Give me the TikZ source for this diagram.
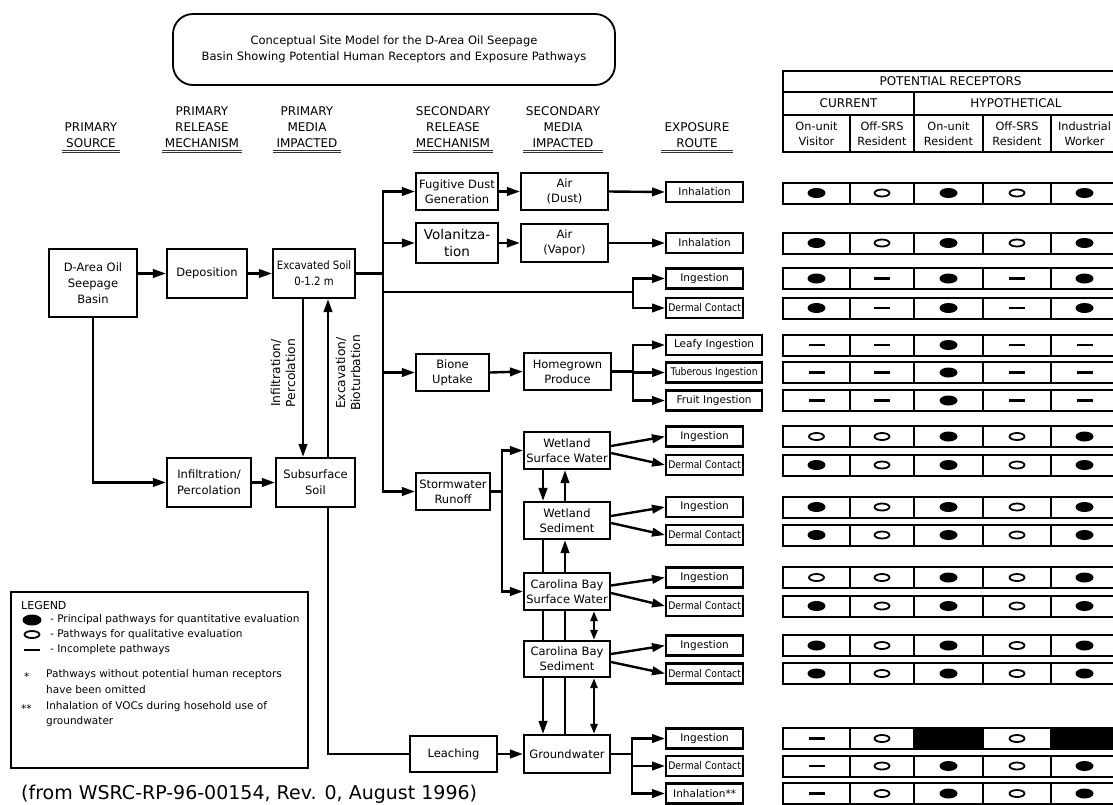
\documentclass[tikz,border=0pt]{standalone}
\usepackage{fontspec}
\setmainfont{DejaVu Sans}
\newfontfamily\cnd[FakeStretch=0.88]{DejaVu Sans}
\usetikzlibrary{arrows.meta,shapes.geometric}
\begin{document}
\begin{tikzpicture}[x=1pt,y=-1pt,
  bx/.style={draw,line width=2.2pt,inner sep=0pt,align=center,font=\fontsize{11.5}{15}\selectfont},
  sz/.style 2 args={minimum width=#1pt,minimum height=#2pt},
  ex/.style={draw,line width=2.2pt,inner sep=0pt,align=center,anchor=west,minimum width=77pt,minimum height=20pt,font=\fontsize{10.5}{12}\selectfont},
  exw/.style={ex,minimum width=96pt},
  ln/.style={line width=2.4pt,line cap=rect},
  arr/.style={line width=2.4pt,-{Triangle[length=13pt,width=8.5pt]}},
  darr/.style={line width=2.4pt,{Triangle[length=10pt,width=7pt]}-{Triangle[length=10pt,width=7pt]}},
  hdr/.style={align=center,inner sep=0pt,font=\fontsize{12}{16}\selectfont},
  ul/.style={double,double distance=1.1pt,line width=0.9pt,draw=black!80},
  tb/.style={line width=2pt},
  th/.style={inner sep=0pt,align=center,font=\fontsize{11.3}{15}\selectfont},
  thc/.style={inner sep=0pt,align=center,font=\fontsize{12}{15}\selectfont},
  symF/.style={ellipse,fill=black,inner sep=0pt,minimum width=18pt,minimum height=10pt},
  symO/.style={ellipse,draw=black,line width=1.8pt,inner sep=0pt,minimum width=15pt,minimum height=7pt},
  symD/.style={rectangle,fill=black,inner sep=0pt,minimum width=16pt,minimum height=2.4pt},
  symB/.style={rectangle,fill=black,inner sep=0pt,minimum width=68pt,minimum height=21pt},
  lg/.style={anchor=west,inner sep=0pt,font=\fontsize{10.5}{12}\selectfont},
]
\useasboundingbox (0,0) rectangle (1113,804);
\clip (0,0) rectangle (1113,804);

% title
\node[draw,rounded corners=20pt,line width=1.8pt,minimum width=442pt,minimum height=71pt,align=center,font=\fontsize{11.5}{16}\selectfont] (title) at (394,49.5)
  {Conceptual Site Model for the D-Area Oil Seepage\\Basin Showing Potential Human Receptors and Exposure Pathways};

% column headers
\node[hdr] (h1) at (91,135) {PRIMARY\\SOURCE};
\node[hdr] (h2) at (202,127) {PRIMARY\\RELEASE\\MECHANISM};
\node[hdr] (h3) at (307,127) {PRIMARY\\MEDIA\\IMPACTED};
\node[hdr] (h4) at (453,127) {SECONDARY\\RELEASE\\MECHANISM};
\node[hdr] (h5) at (563,127) {SECONDARY\\MEDIA\\IMPACTED};
\node[hdr] (h6) at (697,135) {EXPOSURE\\ROUTE};
\foreach \h in {h1,h2,h3,h4,h5,h6}
  \draw[ul] ([xshift=-3pt,yshift=-4pt]\h.south west) -- ([xshift=3pt,yshift=-4pt]\h.south east);

% boxes
\node[bx,sz={88}{68},font=\fontsize{11.5}{16}\selectfont] (src) at (93,283) {D-Area Oil\\Seepage\\Basin};
\node[bx,sz={80}{49}] (dep) at (207,273.5) {Deposition};
\node[bx,sz={82}{49},font=\cnd\fontsize{11.5}{16}\selectfont] (exc) at (314,273.5) {Excavated Soil\\0-1.2 m};
\node[bx,sz={84}{49},font=\fontsize{11.5}{16}\selectfont] (inf) at (209,482.5) {Infiltration/\\Percolation};
\node[bx,sz={79}{49},font=\fontsize{11.5}{16}\selectfont] (sub) at (315.5,482.5) {Subsurface\\Soil};
\node[bx,sz={82}{37}] (fug) at (457,191.5) {Fugitive Dust\\Generation};
\node[bx,sz={82}{40},font=\fontsize{13.5}{17}\selectfont] (vol) at (457,243) {Volanitza-\\tion};
\node[bx,sz={87}{37}] (aird) at (564.5,191.5) {Air\\(Dust)};
\node[bx,sz={87}{38}] (airv) at (564.5,243) {Air\\(Vapor)};
\node[bx,sz={73}{37}] (bio) at (452.5,372.5) {Bione\\Uptake};
\node[bx,sz={87}{37}] (hg) at (567.5,371.5) {Homegrown\\Produce};
\node[bx,sz={74}{37}] (storm) at (453,491.5) {Stormwater\\Runoff};
\node[bx,sz={86}{37}] (wsw) at (567,450.5) {Wetland\\Surface Water};
\node[bx,sz={86}{37}] (wsed) at (567,520.5) {Wetland\\Sediment};
\node[bx,sz={86}{37}] (cbsw) at (567,591.5) {Carolina Bay\\Surface Water};
\node[bx,sz={86}{36}] (cbsed) at (567,659) {Carolina Bay\\Sediment};
\node[bx,sz={87}{36}] (leach) at (453.5,754) {Leaching};
\node[bx,sz={86}{38}] (gw) at (567,754) {Groundwater};

% rotated labels
\node[rotate=90,align=center,inner sep=0pt,font=\fontsize{12.3}{15}\selectfont] (lab1) at (283,373) {Infiltration/\\Percolation};
\node[rotate=90,align=center,inner sep=0pt,font=\fontsize{12.3}{15}\selectfont] (lab2) at (348,373) {Excavation/\\Bioturbation};

% exposure routes
\node[ex] (e1) at (665,192) {Inhalation};
\node[ex] (e2) at (665,243) {Inhalation};
\node[ex] (e3) at (665,278.5) {Ingestion};
\node[ex,font=\cnd\fontsize{10.5}{12}\selectfont] (e4) at (665,308) {Dermal Contact};
\node[exw] (e5) at (665,345) {Leafy Ingestion};
\node[exw,font=\cnd\fontsize{10.5}{12}\selectfont] (e6) at (665,372.5) {Tuberous Ingestion};
\node[exw] (e7) at (665,400.5) {Fruit Ingestion};
\node[ex] (e8) at (665,436.5) {Ingestion};
\node[ex,font=\cnd\fontsize{10.5}{12}\selectfont] (e9) at (665,465) {Dermal Contact};
\node[ex] (e10) at (665,507) {Ingestion};
\node[ex,font=\cnd\fontsize{10.5}{12}\selectfont] (e11) at (665,535) {Dermal Contact};
\node[ex] (e12) at (665,577.5) {Ingestion};
\node[ex,font=\cnd\fontsize{10.5}{12}\selectfont] (e13) at (665,606) {Dermal Contact};
\node[ex] (e14) at (665,645.5) {Ingestion};
\node[ex,font=\cnd\fontsize{10.5}{12}\selectfont] (e15) at (665,673.5) {Dermal Contact};
\node[ex] (e16) at (665,738.5) {Ingestion};
\node[ex,font=\cnd\fontsize{10.5}{12}\selectfont] (e17) at (665,766) {Dermal Contact};
\node[ex] (e18) at (665,793.5) {Inhalation**};

% helper coordinates
\coordinate (busx) at (383,0);
\coordinate (br) at (383,292);
\coordinate (sx) at (633,0);
\coordinate (sx2) at (502,0);
\coordinate (gx) at (632,0);
\coordinate (vx1) at (303,0);
\coordinate (vx2) at (328,0);
\coordinate (xa) at (543,0);
\coordinate (xb) at (565,0);
\coordinate (xc) at (594,0);

% connectors: primary
\draw[arr] (src.east |- dep.west) -- (dep.west);
\draw[arr] (dep.east) -- (exc.west);
\draw[arr] (src.south) |- (inf.west);
\draw[arr] (inf.east) -- (sub.west);
\draw[arr] (exc.south -| vx1) -- (sub.north -| vx1);
\draw[arr] (sub.north -| vx2) -- (exc.south -| vx2);
\draw[ln] (sub.south -| vx2) |- (leach.west);
\draw[arr] (leach.east) -- (gw.west);

% bus
\draw[ln] (exc.east) -- (exc.east -| busx);
\draw[ln] (fug.west -| busx) -- (storm.west -| busx);
\draw[arr] (fug.west -| busx) -- (fug.west);
\draw[arr] (vol.west -| busx) -- (vol.west);
\draw[arr] (bio.west -| busx) -- (bio.west);
\draw[arr] (storm.west -| busx) -- (storm.west);
\draw[ln] (br) -- (br -| sx);
\draw[ln] (e3.west -| sx) -- (e4.west -| sx);
\draw[arr] (e3.west -| sx) -- (e3.west);
\draw[arr] (e4.west -| sx) -- (e4.west);

% air
\draw[arr] (fug.east) -- (aird.west);
\draw[arr] (vol.east) -- (airv.west);
\draw[arr] (aird.east) -- (e1.west);
\draw[arr] (airv.east) -- (e2.west);

% produce
\draw[arr] (bio.east) -- (hg.west);
\draw[ln] (hg.east) -- (hg.east -| sx);
\draw[ln] (e5.west -| sx) -- (e7.west -| sx);
\draw[arr] (e5.west -| sx) -- (e5.west);
\draw[arr] (e6.west -| sx) -- (e6.west);
\draw[arr] (e7.west -| sx) -- (e7.west);

% stormwater
\draw[ln] (storm.east) -- (storm.east -| sx2);
\draw[ln] (wsw.west -| sx2) -- (cbsw.west -| sx2);
\draw[arr] (wsw.west -| sx2) -- (wsw.west);
\draw[arr] (cbsw.west -| sx2) -- (cbsw.west);

% vertical links between water/sediment boxes
\draw[arr] (wsw.south -| xa) -- (wsed.north -| xa);
\draw[arr] (wsed.north -| xb) -- (wsw.south -| xb);
\draw[ln] (wsed.south -| xa) -- (cbsw.north -| xa);
\draw[arr] (cbsw.north -| xb) -- (wsed.south -| xb);
\draw[ln] (cbsw.south -| xa) -- (cbsed.north -| xa);
\draw[ln] (cbsw.south -| xb) -- (cbsed.north -| xb);
\draw[darr] (cbsw.south -| xc) -- (cbsed.north -| xc);
\draw[arr] (cbsed.south -| xa) -- (gw.north -| xa);
\draw[ln] (cbsed.south -| xb) -- (gw.north -| xb);
\draw[darr] (cbsed.south -| xc) -- (gw.north -| xc);

% diagonal exposure arrows
\draw[arr] ([yshift=4.5pt]wsw.east) -- (e8.west);
\draw[arr] ([yshift=-2.5pt]wsw.east) -- (e9.west);
\draw[arr] ([yshift=4.5pt]wsed.east) -- (e10.west);
\draw[arr] ([yshift=-2.5pt]wsed.east) -- (e11.west);
\draw[arr] ([yshift=6pt]cbsw.east) -- (e12.west);
\draw[arr] ([yshift=-1.5pt]cbsw.east) -- (e13.west);
\draw[arr] ([yshift=5pt]cbsed.east) -- (e14.west);
\draw[arr] ([yshift=-3pt]cbsed.east) -- (e15.west);

% groundwater
\draw[ln] (gw.east) -- (gw.east -| gx);
\draw[ln] (e16.west -| gx) -- (e18.west -| gx);
\draw[arr] (e16.west -| gx) -- (e16.west);
\draw[arr] (e17.west -| gx) -- (e17.west);
\draw[arr] (e18.west -| gx) -- (e18.west);

% receptor table header
\draw[tb] (783,71) rectangle (1118,152);
\draw[tb] (783,92) -- (1118,92);
\draw[tb] (783,115) -- (1118,115);
\draw[tb] (914,92) -- (914,152);
\foreach \xx in {850,983,1051} \draw[tb] (\xx,115) -- (\xx,152);
\node[thc] (tr) at (950.5,81.5) {POTENTIAL RECEPTORS};
\node[thc] (tcur) at (848.5,103.5) {CURRENT};
\node[thc] (thyp) at (1016,103.5) {HYPOTHETICAL};
\node[th] (t1) at (816.5,133.5) {On-unit\\Visitor};
\node[th] (t2) at (882,133.5) {Off-SRS\\Resident};
\node[th] (t3) at (948.5,133.5) {On-unit\\Resident};
\node[th] (t4) at (1017,133.5) {Off-SRS\\Resident};
\node[th] (t5) at (1084.5,133.5) {Industrial\\Worker};

% receptor rows
\foreach \yy/\a/\b/\c/\d/\e [count=\i] in {
  193/F/O/F/O/F, 243/F/O/F/O/F, 278.5/F/D/F/D/F, 308/F/D/F/D/F,
  345/D/D/F/D/D, 372.5/D/D/F/D/D, 400.5/D/D/F/D/D,
  436.5/O/O/F/O/F, 465/F/O/F/O/F, 507/F/O/F/O/F, 535/F/O/F/O/F,
  577.5/O/O/F/O/F, 606/F/O/F/O/F, 645.5/F/O/F/O/F, 673.5/F/O/F/O/F,
  738.5/D/O/B/O/B, 766/D/O/F/O/F, 793.5/D/O/F/O/F}{
  \draw[tb] (783,\yy-10.5) rectangle (1118,\yy+10.5);
  \foreach \xx in {850,914,983,1051} \draw[tb] (\xx,\yy-10.5) -- (\xx,\yy+10.5);
  \foreach \xx/\s [count=\j] in {816.5/\a,882/\b,948.5/\c,1017/\d,1084.5/\e}
    \node[sym\s] (c\i-\j) at (\xx,\yy) {};
}

% legend
\node[draw,line width=1.5pt,minimum width=297pt,minimum height=176pt,anchor=north west,inner sep=0pt] (leg) at (10,591) {};
\node[lg,font=\fontsize{11}{12}\selectfont] (lgt) at (21,605) {LEGEND};
\node[symF,minimum width=19pt,minimum height=11pt] (lgF) at (32,620) {};
\node[symO] (lgO) at (32,634.5) {};
\node[symD] (lgD) at (32,650) {};
\node[lg] (lg1) at (50,620) {- Principal pathways for quantitative evaluation};
\node[lg] (lg2) at (50,634.5) {- Pathways for qualitative evaluation};
\node[lg] (lg3) at (50,650) {- Incomplete pathways};
\node[lg] (lg4s) at (24,677) {*};
\node[lg] (lg4) at (46,675) {Pathways without potential human receptors};
\node[lg] (lg5) at (46,689.5) {have been omitted};
\node[lg] (lg6s) at (21,709) {**};
\node[lg] (lg6) at (46,707) {Inhalation of VOCs during hosehold use of};
\node[lg] (lg7) at (46,721.5) {groundwater};

% footer
\node[anchor=west,inner sep=0pt,font=\fontsize{19}{21}\selectfont] (foot) at (21,794) {(from WSRC-RP-96-00154, Rev. 0, August 1996)};
\end{tikzpicture}
\end{document}
